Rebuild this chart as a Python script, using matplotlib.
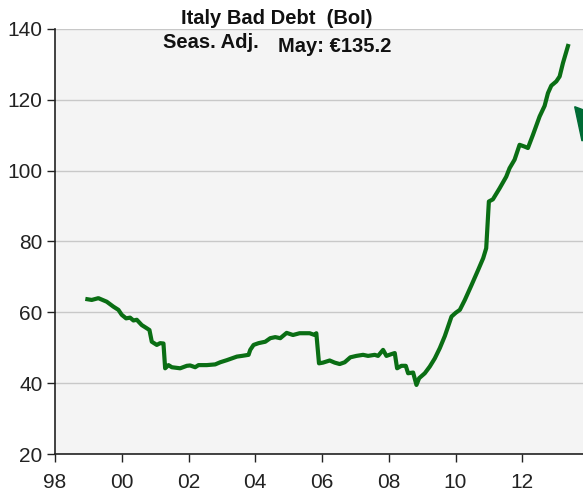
"""Italy bad debt (Bank of Italy), seasonally adjusted, EUR bn."""
import matplotlib
matplotlib.use("Agg")
import matplotlib.pyplot as plt
from matplotlib.patches import Polygon

plt.rcParams["font.family"] = ["Liberation Sans", "DejaVu Sans"]

# values (decimal year, EUR bn)
years = [
    1998.97, 1999.1, 1999.3, 1999.55, 1999.75, 1999.9, 2000.0, 2000.13, 2000.25,
    2000.35, 2000.45, 2000.6, 2000.75, 2000.83, 2000.9, 2001.05, 2001.15, 2001.25,
    2001.3, 2001.4, 2001.5, 2001.75, 2001.95, 2002.05, 2002.2, 2002.3, 2002.55,
    2002.8, 2002.95, 2003.15, 2003.3, 2003.45, 2003.6, 2003.8, 2003.85, 2003.95,
    2004.1, 2004.3, 2004.45, 2004.6, 2004.75, 2004.94, 2005.13, 2005.33, 2005.63,
    2005.78, 2005.83, 2005.91, 2006.03, 2006.23, 2006.38, 2006.53, 2006.68, 2006.85,
    2007.03, 2007.23, 2007.38, 2007.58, 2007.68, 2007.83, 2007.93, 2008.08, 2008.18,
    2008.25, 2008.38, 2008.51, 2008.58, 2008.73, 2008.83, 2008.91, 2009.08, 2009.23,
    2009.38, 2009.53, 2009.68, 2009.88, 2010.01, 2010.13, 2010.28, 2010.48, 2010.68,
    2010.83, 2010.92, 2011.0, 2011.12, 2011.32, 2011.52, 2011.62, 2011.77, 2011.92,
    2012.07, 2012.17, 2012.32, 2012.52, 2012.67, 2012.77, 2012.87, 2013.02, 2013.12,
    2013.22, 2013.37,
]
bad_debt = [
    63.7, 63.5, 64.0, 63.0, 61.6, 60.7, 59.3, 58.3, 58.5,
    57.7, 57.9, 56.4, 55.5, 55.0, 51.7, 50.8, 51.3, 51.2,
    44.2, 45.1, 44.5, 44.2, 44.9, 45.0, 44.5, 45.1, 45.1,
    45.3, 45.9, 46.5, 47.0, 47.5, 47.7, 48.0, 49.4, 50.8,
    51.3, 51.7, 52.7, 53.0, 52.7, 54.2, 53.6, 54.1, 54.1,
    53.6, 54.1, 45.6, 45.8, 46.4, 45.8, 45.4, 45.9, 47.3,
    47.7, 48.0, 47.7, 48.0, 47.7, 49.4, 47.7, 48.2, 48.5,
    44.2, 44.9, 44.9, 42.8, 43.0, 39.5, 41.4, 42.8, 44.7,
    47.0, 49.9, 53.3, 58.8, 59.9, 60.7, 63.5, 67.7, 72.0,
    75.3, 78.1, 91.3, 91.9, 95.0, 98.3, 100.7, 103.1, 107.3,
    106.8, 106.4, 110.1, 115.3, 118.3, 121.9, 124.0, 125.2, 126.6,
    130.4, 135.2,
]
tick_years = [1998, 2000, 2002, 2004, 2006, 2008, 2010, 2012]
tick_labels = ["98", "00", "02", "04", "06", "08", "10", "12"]
y_ticks = [20, 40, 60, 80, 100, 120, 140]

W, H = 583, 493
fig = plt.figure(figsize=(W / 100, H / 100), dpi=100)
ax = fig.add_axes([55 / W, 1 - 454 / H, 534 / W, 425 / H])
ax.set_facecolor("#f4f4f4")

ax.plot(years, bad_debt, color="#0a6e14", lw=3, solid_joinstyle="round")

ax.set_xlim(1998, 2014)
ax.set_ylim(20, 140)
ax.set_xticks(tick_years)
ax.set_xticklabels(tick_labels)
ax.set_yticks(y_ticks)
ax.grid(axis="y", color="#c8c8c8", lw=1)
ax.set_axisbelow(True)
for side in ("top", "right"):
    ax.spines[side].set_visible(False)
for side in ("left", "bottom"):
    ax.spines[side].set_color("#222222")
    ax.spines[side].set_linewidth(1.2)
ax.tick_params(direction="out", length=6, width=1, colors="#222222",
               labelsize=15, pad=3)
ax.tick_params(axis="x", pad=8)

title_kw = dict(ha="center", va="center", fontsize=14.5, fontweight="bold",
                color="#111111")
fig.text(277 / W, 1 - 19 / H, "Italy Bad Debt  (BoI)", **title_kw)
fig.text(211 / W, 1 - 42 / H, "Seas. Adj.", **title_kw)
fig.text(335 / W, 1 - 46 / H, "May: €135.2", **title_kw)

# arrow head poking in from the right edge
px = [(574.7, 106.7), (600, 116), (582, 141)]
fig.patches.append(Polygon([(x / W, 1 - y / H) for x, y in px], closed=True,
                           transform=fig.transFigure, color="#006b35"))

fig.savefig("out.png", dpi=100)
